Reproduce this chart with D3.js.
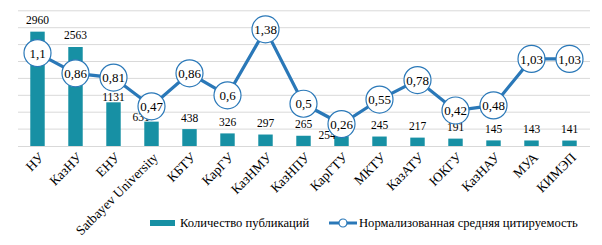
<!DOCTYPE html>
<html>
<head>
<meta charset="utf-8">
<script src="https://cdn.jsdelivr.net/npm/d3@7"></script>
<style>
  body { margin: 0; background: #fff; }
</style>
</head>
<body>
<svg id="chart" width="602" height="245"></svg>
<script>
const universities = ['НУ', 'КазНУ', 'ЕНУ', 'Satbayev University', 'КБТУ', 'КарГУ', 'КазНМУ', 'КазНПУ', 'КарГТУ', 'МКТУ', 'КазАТУ', 'ЮКГУ', 'КазНАУ', 'МУА', 'КИМЭП'];
const publications = [2960, 2563, 1131, 631, 438, 326, 297, 265, 254, 245, 217, 191, 145, 143, 141];
const citation = [1.1, 0.86, 0.81, 0.47, 0.86, 0.6, 1.38, 0.5, 0.26, 0.55, 0.78, 0.42, 0.48, 1.03, 1.03];
const gridTicks = [0.2, 0.4, 0.6, 0.8, 1.0, 1.2, 1.4, 1.6];
const seriesNames = ['Количество публикаций', 'Нормализованная средняя цитируемость'];

// labels that were moved by hand in the original so they don't sit under the circles
const labelNudge = { 'ЕНУ': [0, 6.5], 'Satbayev University': [-10.5, 7], 'КарГТУ': [-14.5, 10.5] };

const barColor = '#1790a4';
const lineColor = '#2a78b8';
const serif = '"Liberation Serif", "Times New Roman", Times, serif';

const svg = d3.select('#chart');
const plotBottom = 146, plotTop = 10.8;

const x = d3.scaleBand().domain(universities).range([18.5, 588.5]).paddingInner(0.62).paddingOuter(0.31);
const yBar = d3.scaleLinear().domain([0, 3500]).range([plotBottom, plotTop]);
const yLine = d3.scaleLinear().domain([0, 1.6]).range([plotBottom, plotTop]);
const cx = d => x(d) + x.bandwidth() / 2;

// gridlines
svg.append('g').selectAll('line').data(gridTicks).enter().append('line')
  .attr('x1', 18).attr('x2', 590)
  .attr('y1', d => yLine(d)).attr('y2', d => yLine(d))
  .attr('stroke', '#d9d9d9').attr('stroke-width', 1);

// x axis
const xAxis = d3.axisBottom(x).tickSize(0).tickPadding(0);
const gx = svg.append('g').attr('transform', 'translate(0,' + plotBottom + ')').call(xAxis);
gx.select('.domain').attr('stroke', '#d9d9d9').attr('d', 'M18,0.5H590');
gx.selectAll('.tick text')
  .attr('font-size', 13.5)
  .attr('text-anchor', 'end')
  .attr('transform', 'translate(4,9) rotate(-45)')
  .attr('dy', '0.35em')
  .attr('y', 0).attr('x', 0);

// bars
svg.append('g').selectAll('rect').data(universities).enter().append('rect')
  .attr('x', d => x(d))
  .attr('width', x.bandwidth())
  .attr('y', (d, i) => yBar(publications[i]))
  .attr('height', (d, i) => plotBottom - yBar(publications[i]))
  .attr('fill', barColor);

// bar labels
svg.append('g').selectAll('text').data(universities).enter().append('text')
  .attr('x', d => cx(d) + (labelNudge[d] ? labelNudge[d][0] : 0))
  .attr('y', (d, i) => yBar(publications[i]) - 7.5 + (labelNudge[d] ? labelNudge[d][1] : 0))
  .attr('text-anchor', 'middle')
  .attr('font-size', 11.5)
  .text((d, i) => publications[i]);

// line
const line = d3.line().x(d => cx(d)).y((d, i) => yLine(citation[i]));
svg.append('path').datum(universities)
  .attr('d', line)
  .attr('fill', 'none')
  .attr('stroke', lineColor)
  .attr('stroke-width', 3.2);

const fmt = v => String(v).replace('.', ',');

const pts = svg.append('g').selectAll('g').data(universities).enter().append('g')
  .attr('transform', (d, i) => 'translate(' + cx(d) + ',' + yLine(citation[i]) + ')');
pts.append('circle').attr('r', 13.5).attr('fill', '#fff').attr('stroke', lineColor).attr('stroke-width', 1.2);
pts.append('text')
  .attr('text-anchor', 'middle').attr('dy', '0.35em')
  .attr('font-size', 13)
  .text((d, i) => fmt(citation[i]));

// legend
const lg = svg.append('g').attr('transform', 'translate(0,223)');
lg.append('rect').attr('x', 150).attr('y', -3).attr('width', 25).attr('height', 6).attr('fill', barColor);
lg.append('text').attr('x', 180).attr('dy', '0.35em').attr('font-size', 12.6).text(seriesNames[0]);
lg.append('line').attr('x1', 329).attr('x2', 357).attr('y1', 0).attr('y2', 0).attr('stroke', lineColor).attr('stroke-width', 3);
lg.append('circle').attr('cx', 343).attr('cy', 0).attr('r', 4).attr('fill', '#fff').attr('stroke', lineColor).attr('stroke-width', 1.2);
lg.append('text').attr('x', 359).attr('dy', '0.35em').attr('font-size', 12.6).text(seriesNames[1]);

svg.selectAll('text').style('font-family', serif).attr('fill', '#000');
</script>
</body>
</html>
